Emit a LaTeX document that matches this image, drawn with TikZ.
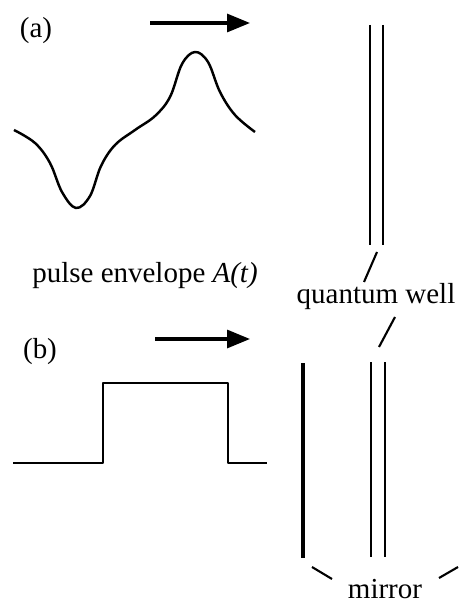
\documentclass[tikz,border=0pt]{standalone}
\usepackage{fontspec}
\setmainfont{Liberation Serif}
\usetikzlibrary{arrows.meta}

\begin{document}
\begin{tikzpicture}[
    x=0.02cm, y=-0.02cm,
    every node/.style={font=\fontsize{16.5}{20}\selectfont, inner sep=0pt},
    arr/.style={-{Triangle[length=0.46cm, width=0.36cm]}, line width=1.8pt},
    pulse/.style={line width=1.4pt, line join=round},
    layer/.style={line width=1.2pt},
    mirr/.style={line width=2.4pt},
    lead/.style={line width=1.2pt},
]
\useasboundingbox (0,0) rectangle (460,604);

    % (a) smooth envelope
    \node (la) at (36,31) {(a)};
    \coordinate (a0) at (150,23);
    \coordinate (a1) at (250,23);
    \draw[arr] (a0) -- (a1);

    \draw[pulse] plot[smooth, tension=0.6] coordinates {
        (14,130) (35,143) (50,163) (62,192) (76,208) (90,196) (101,166)
        (115,145) (135,130) (155,116) (170,97) (182,64) (195,52) (208,62)
        (220,92) (235,115) (255,132)};

    \node[anchor=base] (env) at (145,282) {pulse envelope \textit{A(t)}};

    % quantum well (a)
    \coordinate (qa1t) at (370,25);
    \coordinate (qa1b) at (370,245);
    \coordinate (qa2t) at (383,25);
    \coordinate (qa2b) at (383,245);
    \draw[layer] (qa1t) -- (qa1b);
    \draw[layer] (qa2t) -- (qa2b);

    \node[anchor=base] (qw) at (376,303) {quantum well};
    \coordinate (u1) at (377,252);
    \coordinate (u2) at (364,282);
    \coordinate (d1) at (395,317);
    \coordinate (d2) at (379,347);
    \draw[lead] (u1) -- (u2);
    \draw[lead] (d1) -- (d2);

    % (b) square pulse
    \node (lb) at (40,352) {(b)};
    \coordinate (b0) at (155,339);
    \coordinate (b1) at (250,339);
    \draw[arr] (b0) -- (b1);

    \draw[pulse] (13,463) -- (103,463) -- (103,383) -- (228,383)
        -- (228,463) -- (267,463);

    % quantum well (b) and mirror
    \coordinate (qb1t) at (371,362);
    \coordinate (qb1b) at (371,557);
    \coordinate (qb2t) at (385,362);
    \coordinate (qb2b) at (385,557);
    \draw[layer] (qb1t) -- (qb1b);
    \draw[layer] (qb2t) -- (qb2b);

    \coordinate (mt) at (303,363);
    \coordinate (mb) at (303,558);
    \draw[mirr] (mt) -- (mb);

    \node[anchor=base] (mir) at (385,598) {mirror};
    \coordinate (m1) at (312,567);
    \coordinate (m2) at (332,579);
    \coordinate (m3) at (439,578);
    \coordinate (m4) at (458,567);
    \draw[lead] (m1) -- (m2);
    \draw[lead] (m3) -- (m4);

\end{tikzpicture}
\end{document}
